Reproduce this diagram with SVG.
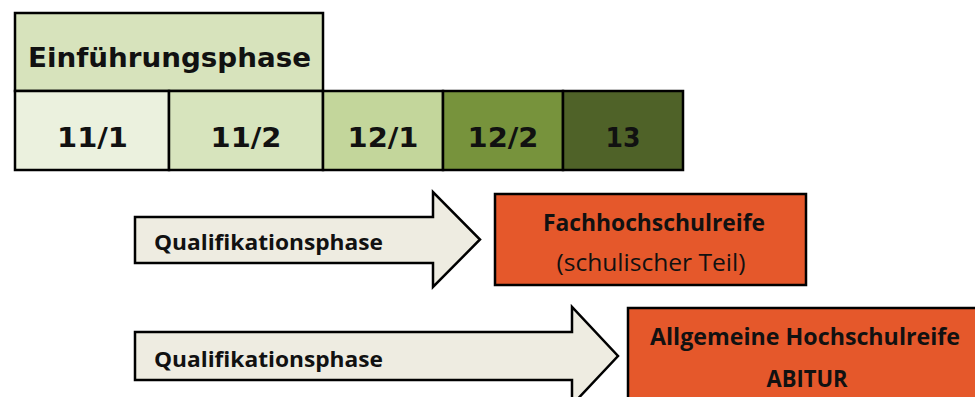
<svg xmlns="http://www.w3.org/2000/svg" width="975" height="397" viewBox="0 0 975 397">
<style>
.cell{stroke:#000;stroke-width:2.5}
.num{font-family:"DejaVu Sans",Verdana,sans-serif;font-weight:bold;font-size:26px;fill:#111;text-anchor:middle}
.arrow{fill:#eeece1;stroke:#000;stroke-width:2.5;stroke-linejoin:miter}
.lbl{font-family:"Open Sans",Lato,sans-serif;font-weight:bold;font-size:22px;fill:#111}
.goal{fill:#e5582b;stroke:#000;stroke-width:2.5}
.gt{font-family:"Open Sans",Lato,sans-serif;font-size:23px;fill:#111;text-anchor:middle}
</style>
<rect width="975" height="397" fill="#fff"/>
<g id="einfuehrungsphase">
<rect class="cell" x="15" y="13" width="308" height="78" fill="#d7e3bc"/>
<text class="num" x="169.5" y="67" textLength="283" lengthAdjust="spacingAndGlyphs">Einführungsphase</text>
</g>
<g id="c11-1">
<rect class="cell" x="15" y="91" width="154" height="79" fill="#ebf1de"/>
<text class="num" x="92.5" y="147" textLength="71" lengthAdjust="spacingAndGlyphs">11/1</text>
</g>
<g id="c11-2">
<rect class="cell" x="169" y="91" width="154" height="79" fill="#d7e4bd"/>
<text class="num" x="246" y="147" textLength="71" lengthAdjust="spacingAndGlyphs">11/2</text>
</g>
<g id="c12-1">
<rect class="cell" x="323" y="91" width="120" height="79" fill="#c3d69b"/>
<text class="num" x="383" y="147" textLength="71" lengthAdjust="spacingAndGlyphs">12/1</text>
</g>
<g id="c12-2">
<rect class="cell" x="443" y="91" width="120" height="79" fill="#77933c"/>
<text class="num" x="503" y="147" textLength="71" lengthAdjust="spacingAndGlyphs">12/2</text>
</g>
<g id="c13">
<rect class="cell" x="563" y="91" width="120" height="79" fill="#4f6228"/>
<text class="num" x="623" y="147" textLength="35" lengthAdjust="spacingAndGlyphs">13</text>
</g>
<g id="connectors">
<g id="arrow1">
<polygon class="arrow" points="135,217 433,217 433,192 480,239.5 433,287 433,263 135,263"/>
<text class="lbl" x="154" y="250" textLength="229" lengthAdjust="spacingAndGlyphs">Qualifikationsphase</text>
</g>
<g id="arrow2">
<polygon class="arrow" points="135,332 572,332 572,307 618,356 572,405 572,380 135,380"/>
<text class="lbl" x="154" y="367" textLength="229" lengthAdjust="spacingAndGlyphs">Qualifikationsphase</text>
</g>
</g>
<g id="fachhochschulreife">
<rect class="goal" x="495" y="194" width="311" height="91"/>
<text class="gt" x="654" y="231" font-weight="bold" textLength="222" lengthAdjust="spacingAndGlyphs">Fachhochschulreife</text>
<text class="gt" x="651" y="271" textLength="189" lengthAdjust="spacingAndGlyphs">(schulischer Teil)</text>
</g>
<g id="abitur">
<rect class="goal" x="628" y="308" width="360" height="100"/>
<text class="gt" x="805" y="345" font-weight="bold" textLength="310" lengthAdjust="spacingAndGlyphs">Allgemeine Hochschulreife</text>
<text class="gt" x="807" y="387" font-weight="bold" textLength="81" lengthAdjust="spacingAndGlyphs">ABITUR</text>
</g>
</svg>
